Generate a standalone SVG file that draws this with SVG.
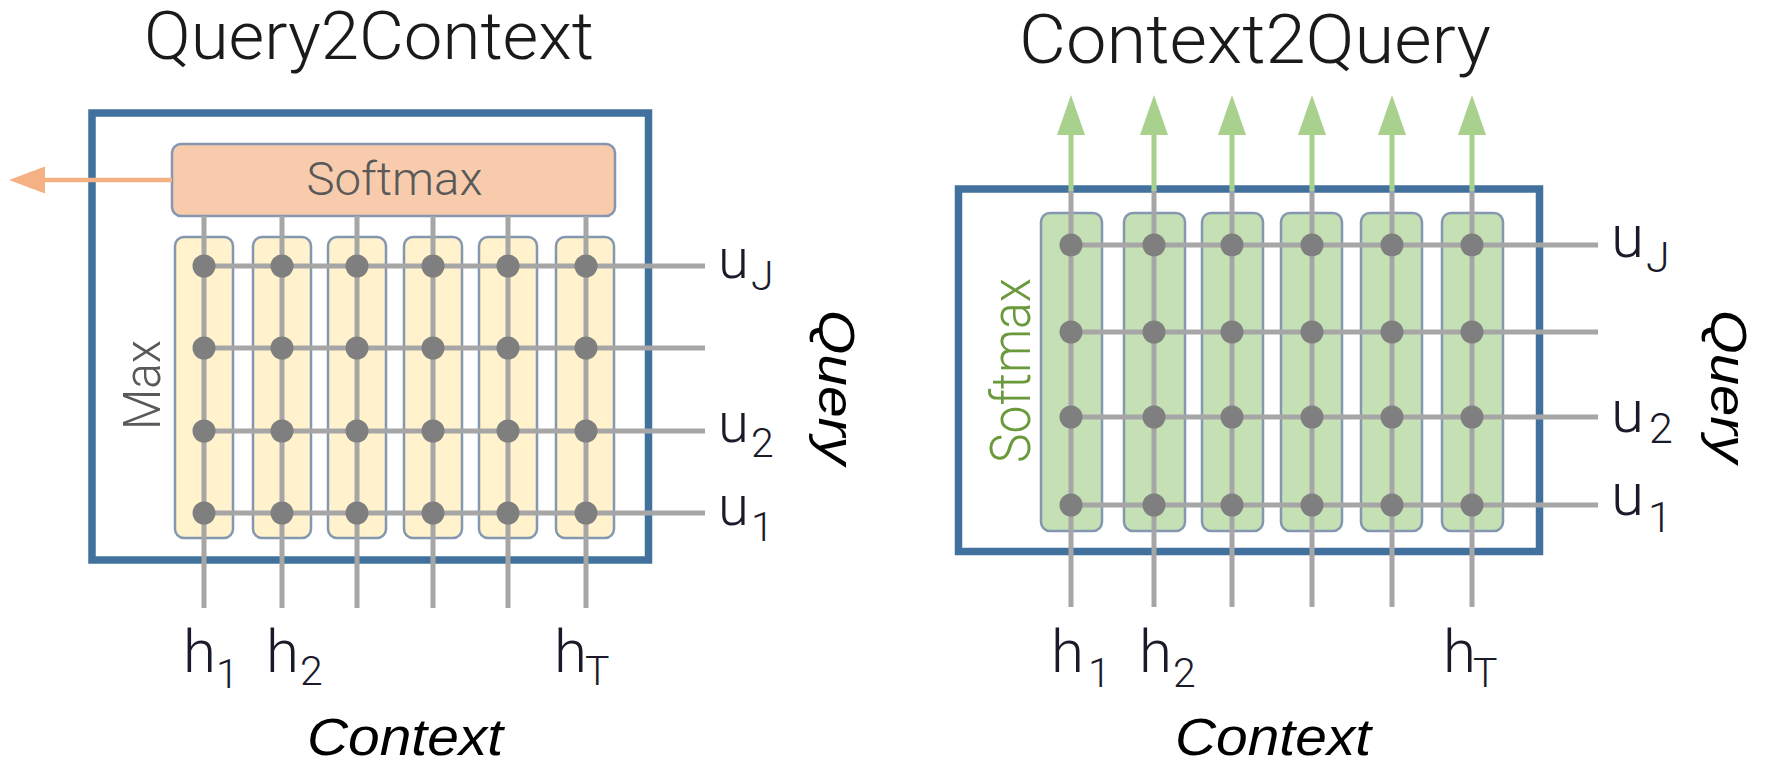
<svg xmlns="http://www.w3.org/2000/svg" width="1767" height="766" viewBox="0 0 1767 766">
<style>
.frame{fill:none;stroke:#41719c;stroke-width:7.5}
.col-y{fill:#fff2cc;stroke:#8497b0;stroke-width:2.5}
.col-g{fill:#c5e0b4;stroke:#8497b0;stroke-width:2.5}
.soft{fill:#f8cbad;stroke:#8497b0;stroke-width:2.5}
.ln{stroke:#a6a6a6;stroke-width:5;fill:none}
.dot{fill:#7f7f7f}
.ttl{font-family:Roboto,"Liberation Sans",sans-serif;font-weight:300;fill:#1a1a1a}
.lbl{font-family:Roboto,"Liberation Sans",sans-serif;font-weight:300;fill:#1a1a2a}
.ax{font-family:"Liberation Sans",Arial,sans-serif;font-style:italic;fill:#000}
.inner{font-family:Roboto,"Liberation Sans",sans-serif;font-weight:300}
</style>
<defs>
<circle id="d" r="11.5" class="dot"/>
</defs>

<!-- Left panel: Query2Context -->
<g id="q2c-title"><text class="ttl" x="144" y="59" font-size="66" textLength="450" lengthAdjust="spacingAndGlyphs">Query2Context</text></g>
<g id="q2c-frame"><rect class="frame" x="92" y="113" width="556.5" height="447"/></g>
<g id="q2c-softmax">
<rect class="soft" x="172" y="144" width="443" height="72" rx="9"/>
<text class="inner" x="394.5" y="195" font-size="46" text-anchor="middle" fill="#595959" textLength="176" lengthAdjust="spacingAndGlyphs">Softmax</text>
</g>
<g id="q2c-columns">
<rect class="col-y" x="175" y="237" width="58" height="301" rx="9"/>
<rect class="col-y" x="253" y="237" width="58" height="301" rx="9"/>
<rect class="col-y" x="328" y="237" width="58" height="301" rx="9"/>
<rect class="col-y" x="404" y="237" width="58" height="301" rx="9"/>
<rect class="col-y" x="479" y="237" width="58" height="301" rx="9"/>
<rect class="col-y" x="556" y="237" width="58" height="301" rx="9"/>
</g>
<g id="q2c-max"><text class="inner" transform="translate(160,385) rotate(-90)" font-size="52" text-anchor="middle" fill="#595959" textLength="90" lengthAdjust="spacingAndGlyphs">Max</text></g>

<!-- Right panel: Context2Query -->
<g id="c2q-title"><text class="ttl" x="1019" y="63" font-size="69" textLength="472" lengthAdjust="spacingAndGlyphs">Context2Query</text></g>
<g id="c2q-frame"><rect class="frame" x="958.5" y="189" width="581" height="362.5"/></g>
<g id="c2q-columns">
<rect class="col-g" x="1041" y="213" width="61" height="318" rx="9"/>
<rect class="col-g" x="1124" y="213" width="61" height="318" rx="9"/>
<rect class="col-g" x="1202" y="213" width="61" height="318" rx="9"/>
<rect class="col-g" x="1281" y="213" width="61" height="318" rx="9"/>
<rect class="col-g" x="1361" y="213" width="61" height="318" rx="9"/>
<rect class="col-g" x="1442" y="213" width="61" height="318" rx="9"/>
</g>
<g id="c2q-softmax"><text class="inner" transform="translate(1030,370.5) rotate(-90)" font-size="56" text-anchor="middle" fill="#6a9a3c" textLength="185" lengthAdjust="spacingAndGlyphs">Softmax</text></g>

<!-- Connectors -->
<g id="connectors">
<path class="ln" d="M204 216V608M282 216V608M357 216V608M433 216V608M508 216V608M586 216V608"/>
<path class="ln" d="M204 266H705M204 348H705M204 431H705M204 513H705"/>
<line x1="172" y1="180" x2="40" y2="180" stroke="#f4b183" stroke-width="4.5"/>
<polygon points="9,180 45,166.5 45,193.5" fill="#f4b183"/>
<path class="ln" d="M1071 189V607M1154 189V607M1232 189V607M1312 189V607M1392 189V607M1472 189V607"/>
<path class="ln" d="M1071 245H1598M1071 332H1598M1071 417H1598M1071 505H1598"/>
<g stroke="#a9d18e" stroke-width="5">
<path d="M1071 191V130M1154 191V130M1232 191V130M1312 191V130M1392 191V130M1472 191V130"/>
</g>
<g fill="#a9d18e">
<polygon points="1071,95 1057,135 1085,135"/>
<polygon points="1154,95 1140,135 1168,135"/>
<polygon points="1232,95 1218,135 1246,135"/>
<polygon points="1312,95 1298,135 1326,135"/>
<polygon points="1392,95 1378,135 1406,135"/>
<polygon points="1472,95 1458,135 1486,135"/>
</g>
</g>

<g id="q2c-dots">
<use href="#d" x="204" y="266"/><use href="#d" x="282" y="266"/><use href="#d" x="357" y="266"/><use href="#d" x="433" y="266"/><use href="#d" x="508" y="266"/><use href="#d" x="586" y="266"/>
<use href="#d" x="204" y="348"/><use href="#d" x="282" y="348"/><use href="#d" x="357" y="348"/><use href="#d" x="433" y="348"/><use href="#d" x="508" y="348"/><use href="#d" x="586" y="348"/>
<use href="#d" x="204" y="431"/><use href="#d" x="282" y="431"/><use href="#d" x="357" y="431"/><use href="#d" x="433" y="431"/><use href="#d" x="508" y="431"/><use href="#d" x="586" y="431"/>
<use href="#d" x="204" y="513"/><use href="#d" x="282" y="513"/><use href="#d" x="357" y="513"/><use href="#d" x="433" y="513"/><use href="#d" x="508" y="513"/><use href="#d" x="586" y="513"/>
</g>
<g id="c2q-dots">
<use href="#d" x="1071" y="245"/><use href="#d" x="1154" y="245"/><use href="#d" x="1232" y="245"/><use href="#d" x="1312" y="245"/><use href="#d" x="1392" y="245"/><use href="#d" x="1472" y="245"/>
<use href="#d" x="1071" y="332"/><use href="#d" x="1154" y="332"/><use href="#d" x="1232" y="332"/><use href="#d" x="1312" y="332"/><use href="#d" x="1392" y="332"/><use href="#d" x="1472" y="332"/>
<use href="#d" x="1071" y="417"/><use href="#d" x="1154" y="417"/><use href="#d" x="1232" y="417"/><use href="#d" x="1312" y="417"/><use href="#d" x="1392" y="417"/><use href="#d" x="1472" y="417"/>
<use href="#d" x="1071" y="505"/><use href="#d" x="1154" y="505"/><use href="#d" x="1232" y="505"/><use href="#d" x="1312" y="505"/><use href="#d" x="1392" y="505"/><use href="#d" x="1472" y="505"/>
</g>

<g id="q2c-labels">
<text class="lbl" font-size="56" x="718" y="278">u<tspan x="751" y="290" font-size="41">J</tspan></text>
<text class="lbl" font-size="56" x="718" y="442">u<tspan x="751" y="457" font-size="41">2</tspan></text>
<text class="lbl" font-size="56" x="718" y="525">u<tspan x="751" y="541" font-size="41">1</tspan></text>
<text class="lbl" font-size="60" x="183" y="672">h<tspan x="216" y="688" font-size="41">1</tspan></text>
<text class="lbl" font-size="60" x="266" y="672">h<tspan x="300" y="685" font-size="41">2</tspan></text>
<text class="lbl" font-size="60" x="554" y="672">h<tspan x="585" y="685" font-size="41">T</tspan></text>
<text class="ax" font-size="51" x="307" y="755" textLength="196" lengthAdjust="spacingAndGlyphs">Context</text>
<text class="ax" font-size="50" transform="translate(819,310) rotate(90)" textLength="155" lengthAdjust="spacingAndGlyphs">Query</text>
</g>

<g id="c2q-labels">
<text class="lbl" font-size="60" x="1611" y="257">u<tspan x="1646" y="272" font-size="43">J</tspan></text>
<text class="lbl" font-size="60" x="1611" y="432">u<tspan x="1649" y="443" font-size="43">2</tspan></text>
<text class="lbl" font-size="60" x="1611" y="515">u<tspan x="1648" y="532" font-size="43">1</tspan></text>
<text class="lbl" font-size="60" x="1051" y="672">h<tspan x="1088" y="687" font-size="41">1</tspan></text>
<text class="lbl" font-size="60" x="1139" y="672">h<tspan x="1173" y="687" font-size="41">2</tspan></text>
<text class="lbl" font-size="60" x="1443" y="672">h<tspan x="1473" y="687" font-size="41">T</tspan></text>
<text class="ax" font-size="51" x="1175" y="755" textLength="196" lengthAdjust="spacingAndGlyphs">Context</text>
<text class="ax" font-size="50" transform="translate(1711,310) rotate(90)" textLength="153" lengthAdjust="spacingAndGlyphs">Query</text>
</g>
</svg>
